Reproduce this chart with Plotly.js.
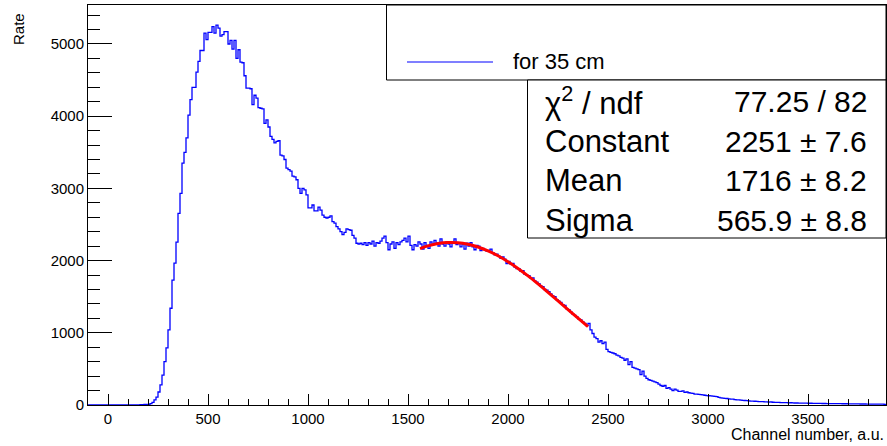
<!DOCTYPE html>
<html>
<head>
<meta charset="utf-8">
<script src="https://cdn.plot.ly/plotly-3.0.1.min.js"></script>
<style>html,body{margin:0;padding:0;background:#fff;}#chart{width:887px;height:446px;}</style>
</head>
<body>
<div id="chart"></div>
<script>
// Histogram: bins of width 10 starting at -100
const binStart = -100;
const binWidth = 10;
const counts = [
  0,0,0,0,0,0,0,0,0,0,            // -100 .. -10
  0,0,0,0,0,0,0,0,0,0,            // 0 .. 90
  0,0,0,0,0,3,5,6,8,10,           // 100 .. 190
  10,20,35,70,110,180,280,415,600,790,          // 200 .. 290
  1040,1340,1730,1965,2255,2655,2930,3350,3500,3700, // 300 .. 390
  4015,4230,4400,4400,4610,4760,4910,4910,5150,5060, // 400 .. 490
  5160,5160,5240,5150,5260,5220,5110,5130,5170,5170, // 500 .. 590
  5000,5050,4930,5050,4800,4920,4750,4740,4560,4390, // 600 .. 690
  4390,4380,4160,4290,4250,4120,4110,4100,3900,3950, // 700 .. 790
  3850,3720,3680,3630,3650,3660,3460,3450,3400,3280, // 800 .. 890
  3260,3240,3170,3160,3120,3000,2930,3000,2980,2910, // 900 .. 990
  2730,2730,2770,2690,2690,2740,2700,2630,2600,2590, // 1000 .. 1090
  2600,2620,2540,2520,2470,2440,2400,2360,2390,2440, // 1100 .. 1190
  2430,2420,2350,2310,2240,2230,2240,2220,2250,2210, // 1200 .. 1290
  2250,2230,2270,2200,2250,2240,2270,2310,2340,2250, // 1300 .. 1390
  2150,2230,2260,2170,2250,2220,2260,2280,2310,2260, // 1400 .. 1490
  2340,2210,2150,2220,2200,2260,2230,2160,2250,2210, // 1500 .. 1590
  2170,2260,2220,2280,2240,2200,2300,2230,2200,2260, // 1600 .. 1690
  2230,2190,2250,2300,2220,2240,2190,2230,2160,2240, // 1700 .. 1790
  2200,2250,2190,2150,2210,2200,2140,2170,2150,2130, // 1800 .. 1890
  2140,2160,2110,2080,2090,2060,2030,2050,2020,1960, // 1900 .. 1990
  1990,1950,1960,1910,1890,1890,1850,1860,1810,1800, // 2000 .. 2090
  1790,1760,1760,1720,1700,1680,1650,1640,1600,1590, // 2100 .. 2190
  1570,1540,1510,1500,1460,1440,1420,1390,1380,1330, // 2200 .. 2290
  1320,1290,1260,1240,1220,1190,1180,1150,1130,1100, // 2300 .. 2390
  1130,1040,990,940,920,870,890,850,870,770,          // 2400 .. 2490
  740,730,720,710,690,680,660,650,620,640,            // 2500 .. 2590
  560,600,520,510,500,490,420,470,400,370,            // 2600 .. 2690
  350,340,330,320,310,290,270,260,270,230,            // 2700 .. 2790
  240,220,200,220,205,190,190,195,175,180,            // 2800 .. 2890
  170,165,160,150,150,148,145,140,135,130,            // 2900 .. 2990
  128,125,122,120,115,105,100,95,92,90,               // 3000 .. 3090
  85,80,82,75,72,70,68,65,62,60,                      // 3100 .. 3190
  58,55,55,52,50,48,47,46,44,42,                      // 3200 .. 3290
  40,42,38,36,37,35,34,33,32,32,                      // 3300 .. 3390
  30,31,29,28,28,27,26,26,25,25,                      // 3400 .. 3490
  24,24,23,23,22,22,22,21,21,20,                      // 3500 .. 3590
  20,20,19,19,18,18,18,17,17,17,                      // 3600 .. 3690
  16,16,16,15,15,15,14,14,14,13,                      // 3700 .. 3790
  13,13,12,12,12,11,11,11,10,10                       // 3800 .. 3890
];

// Gaussian fit curve
const fitX = [1560,1600,1650,1700,1750,1800,1850,1900,1950,2000,2050,2100,2150,2200,2250,2300,2350,2400];
const fitY = [2167,2204,2236,2250,2247,2226,2189,2135,2067,1984,1891,1788,1677,1561,1442,1322,1202,1084];

const xTickVals = [0,500,1000,1500,2000,2500,3000,3500];
const yTickVals = [0,1000,2000,3000,4000,5000];

const legendLabel = "for 35 cm";
const statNames = ["χ<sup>2</sup> / ndf", "Constant", "Mean", "Sigma"];
const statValues = ["77.25 / 82", "2251 ± 7.6", "1716 ± 8.2", "565.9 ± 8.8"];

// step line from bin edges
const hx = [], hy = [];
for (let i = 0; i < counts.length; i++) {
  hx.push(binStart + i * binWidth);
  hy.push(counts[i]);
}
hx.push(binStart + counts.length * binWidth);
hy.push(counts[counts.length - 1]);

const FONT = '"Liberation Sans", Arial, Helvetica, sans-serif';

const traces = [
  {x: hx, y: hy, type: 'scatter', mode: 'lines', line: {shape: 'hv', color: '#0000ff', width: 1.3}, hoverinfo: 'skip', showlegend: false},
  {x: fitX, y: fitY, type: 'scatter', mode: 'lines', line: {shape: 'spline', color: '#ff0000', width: 3}, hoverinfo: 'skip', showlegend: false}
];

// plot area: x 88..886, y 5..405
const L = 88, R = 886, T = 5, B = 405;
const px = v => (v - L) / (R - L);
const py = v => 1 - (v - T) / (B - T);

const annotations = [
  {text: "Channel number, a.u.", xref: 'paper', yref: 'paper', x: 1, y: py(434), xanchor: 'right', yanchor: 'middle', showarrow: false, font: {family: FONT, size: 16, color: '#000'}},
  {text: "Rate", xref: 'paper', yref: 'paper', x: px(18), y: py(11), xanchor: 'center', yanchor: 'top', textangle: -90, showarrow: false, font: {family: FONT, size: 15, color: '#000'}},
  {text: legendLabel, xref: 'paper', yref: 'paper', x: px(511), y: py(62), xanchor: 'left', yanchor: 'middle', showarrow: false, font: {family: FONT, size: 22, color: '#000'}}
];
const rowY = [101, 141, 181, 220];
for (let i = 0; i < statNames.length; i++) {
  annotations.push({text: statNames[i], xref: 'paper', yref: 'paper', x: px(543), y: py(rowY[i]), xanchor: 'left', yanchor: 'middle', showarrow: false, font: {family: FONT, size: 31, color: '#000'}});
  annotations.push({text: statValues[i], xref: 'paper', yref: 'paper', x: px(869), y: py(rowY[i]), xanchor: 'right', yanchor: 'middle', showarrow: false, font: {family: FONT, size: 30, color: '#000'}});
}

const shapes = [
  {type: 'rect', xref: 'paper', yref: 'paper', x0: px(386.5), x1: 1, y0: py(80), y1: 1, line: {color: '#000', width: 1}, fillcolor: '#fff', layer: 'above'},
  {type: 'rect', xref: 'paper', yref: 'paper', x0: px(527.5), x1: 1, y0: py(238), y1: py(80), line: {color: '#000', width: 1}, fillcolor: '#fff', layer: 'above'},
  {type: 'line', xref: 'paper', yref: 'paper', x0: px(407), x1: px(493), y0: py(62), y1: py(62), line: {color: '#0000ff', width: 1.2}, layer: 'above'}
];

const layout = {
  width: 887, height: 446,
  margin: {l: L, r: 887 - R, t: T, b: 446 - B},
  paper_bgcolor: '#fff', plot_bgcolor: '#fff',
  showlegend: false,
  font: {family: FONT, size: 15, color: '#000'},
  xaxis: {
    range: [-100, 3890], tickvals: xTickVals, ticktext: xTickVals.map(String),
    ticks: 'inside', ticklen: 11, tickwidth: 1, tickcolor: '#000',
    minor: {ticks: 'inside', ticklen: 6, dtick: 100, tick0: 0, tickcolor: '#000', tickwidth: 1},
    showgrid: false, zeroline: false, showline: true, linecolor: '#000', linewidth: 1, mirror: true,
    tickfont: {family: FONT, size: 15, color: '#000'}
  },
  yaxis: {
    range: [0, 5540], tickvals: yTickVals, ticktext: yTickVals.map(String),
    ticks: 'inside', ticklen: 24, tickwidth: 1, tickcolor: '#000',
    minor: {ticks: 'inside', ticklen: 12, dtick: 200, tick0: 0, tickcolor: '#000', tickwidth: 1},
    showgrid: false, zeroline: false, showline: true, linecolor: '#000', linewidth: 1, mirror: true,
    tickfont: {family: FONT, size: 15, color: '#000'}
  },
  annotations: annotations,
  shapes: shapes
};

Plotly.newPlot('chart', traces, layout, {staticPlot: true, displayModeBar: false});
</script>
</body>
</html>
